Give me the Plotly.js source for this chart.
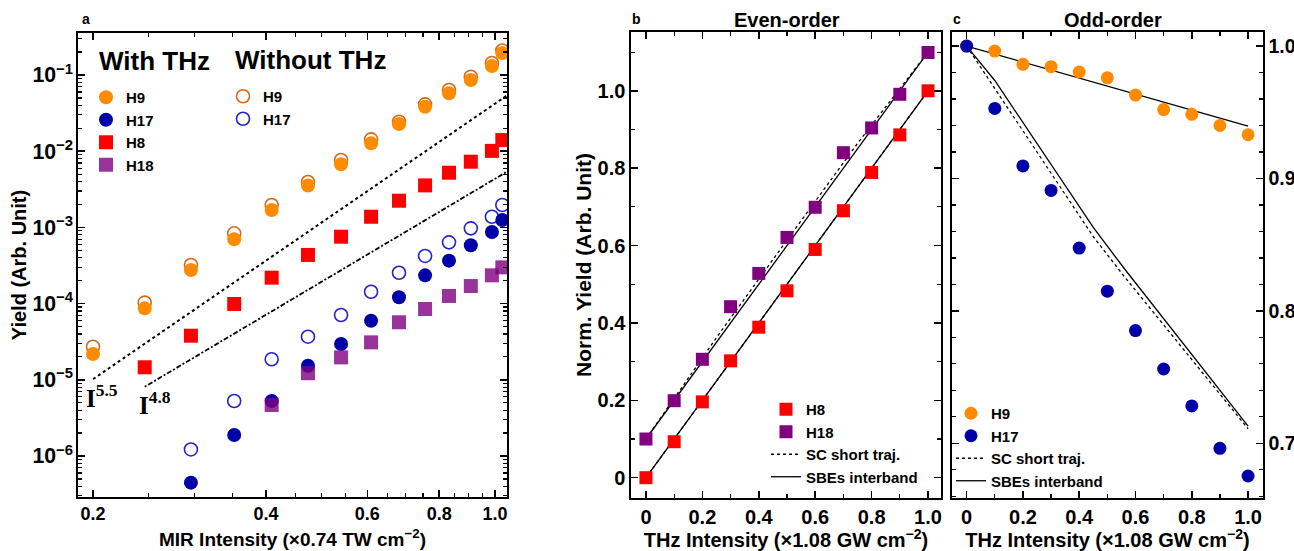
<!DOCTYPE html>
<html><head><meta charset="utf-8">
<script src="https://cdn.plot.ly/plotly-3.0.1.min.js"></script>
<style>html,body{margin:0;padding:0;background:#fff}#chart{width:1294px;height:551px}</style>
</head><body><div id="chart"></div>
<script>
// ---------- Panel a: yield vs MIR intensity (log-log) ----------
const mirIntensity = [0.200,0.246,0.296,0.352,0.409,0.473,0.540,0.609,0.681,0.756,0.832,0.908,0.988,1.030];
const h9WithTHz    = [2.18e-5,8.67e-5,2.76e-4,6.98e-4,1.69e-3,3.55e-3,6.73e-3,1.27e-2,2.28e-2,3.84e-2,5.75e-2,8.60e-2,0.131,0.194];
const h9WithoutTHz = [2.72e-5,1.03e-4,3.21e-4,8.37e-4,1.97e-3,3.94e-3,7.67e-3,1.43e-2,2.44e-2,4.12e-2,6.36e-2,9.50e-2,0.144,0.21];
const h8WithTHz    = [null,1.46e-5,3.79e-5,9.89e-5,2.19e-4,4.35e-4,7.55e-4,1.38e-3,2.24e-3,3.56e-3,5.22e-3,7.28e-3,1.01e-2,1.40e-2];
const h17WithTHz   = [null,null,4.47e-7,1.89e-6,5.27e-6,1.53e-5,2.95e-5,5.97e-5,1.21e-4,2.35e-4,3.66e-4,5.82e-4,8.71e-4,1.25e-3];
const h17WithoutTHz= [null,null,1.22e-6,5.27e-6,1.86e-5,3.68e-5,7.08e-5,1.43e-4,2.54e-4,4.22e-4,6.37e-4,9.72e-4,1.38e-3,1.97e-3];
const h18WithTHz   = [null,null,null,null,4.67e-6,1.22e-5,1.97e-5,3.10e-5,5.69e-5,8.50e-5,1.26e-4,1.70e-4,2.35e-4,2.99e-4];
// power-law guide lines (end points)
const guide55X = [0.200,1.050], guide55Y = [1.02e-5,0.054];
const guide48X = [0.246,1.050], guide48Y = [8.1e-6,5.4e-3];
const axisATickVals = [0.2,0.4,0.6,0.8,1.0];
const axisATickText = ['0.2','0.4','0.6','0.8','1.0'];

// ---------- Panel b: even-order ----------
const thzIntensity = [0,0.1,0.2,0.3,0.4,0.5,0.6,0.7,0.8,0.9,1.0];
const h8Norm  = [0,0.093,0.196,0.302,0.389,0.483,0.590,0.690,0.789,0.886,1.0];
const h18Norm = [0.100,0.199,0.306,0.442,0.528,0.621,0.699,0.840,0.904,0.991,1.099];
const evenModelX = [0,0.25,0.5,0.75,1.0];
const h8SBE  = [0,0.25,0.5,0.75,1.0];
const h8SC   = [0,0.25,0.5,0.75,1.0];
const h18SBE = [0.100,0.350,0.600,0.850,1.100];
const h18SC  = [0.100,0.362,0.614,0.864,1.100];

// ---------- Panel c: odd-order ----------
const h9Norm  = [1.0,0.9962,0.9862,0.9844,0.9804,0.976,0.963,0.952,0.9484,0.940,0.933];
const h17Norm = [1.0,0.9529,0.9095,0.891,0.8474,0.8149,0.7851,0.7561,0.7282,0.6962,0.6753];
const h9ModelX = [0,1.0], h9SBE = [1.0,0.9396];
const h17ModelX = [0,0.1,0.45,0.56,1.0];
const h17SBE = [1.0,0.974,0.863,0.832,0.713];
const h17SC  = [1.0,0.968,0.856,0.826,0.711];

const evenTicks = [0,0.2,0.4,0.6,0.8,1.0];
const evenTickText = ['0','0.2','0.4','0.6','0.8','1.0'];
const oddYTicks = [0.7,0.8,0.9,1.0];
const oddYTickText = ['0.7','0.8','0.9','1.0'];

const ORANGE='#FF8C00', ORANGE_OPEN='#D2691E', BLUE='#0000A8', BLUE_OPEN='#2424CC', RED='#FF0000', PURPLE='#800080';
const F = 'Liberation Sans, Arial, sans-serif';

const traces = [
  // panel a - without THz (open)
  {x:mirIntensity,y:h9WithoutTHz,name:'H9',mode:'markers',xaxis:'x',yaxis:'y',legend:'legend2',
   marker:{symbol:'circle-open',size:13,color:ORANGE_OPEN,line:{width:1.6}}},
  {x:mirIntensity,y:h17WithoutTHz,name:'H17',mode:'markers',xaxis:'x',yaxis:'y',legend:'legend2',
   marker:{symbol:'circle-open',size:13,color:BLUE_OPEN,line:{width:1.6}}},
  // guide lines
  {x:guide55X,y:guide55Y,mode:'lines',xaxis:'x',yaxis:'y',showlegend:false,line:{color:'#000',width:2,dash:'dot'}},
  {x:guide48X,y:guide48Y,mode:'lines',xaxis:'x',yaxis:'y',showlegend:false,line:{color:'#000',width:1.8,dash:'2px,2px,5px,2px'}},
  // panel a - with THz
  {x:mirIntensity,y:h9WithTHz,name:'H9',mode:'markers',xaxis:'x',yaxis:'y',legend:'legend',
   marker:{symbol:'circle',size:14,color:ORANGE}},
  {x:mirIntensity,y:h17WithTHz,name:'H17',mode:'markers',xaxis:'x',yaxis:'y',legend:'legend',
   marker:{symbol:'circle',size:14,color:BLUE}},
  {x:mirIntensity,y:h8WithTHz,name:'H8',mode:'markers',xaxis:'x',yaxis:'y',legend:'legend',
   marker:{symbol:'square',size:14,color:RED}},
  {x:mirIntensity,y:h18WithTHz,name:'H18',mode:'markers',xaxis:'x',yaxis:'y',legend:'legend',
   marker:{symbol:'square',size:14,color:PURPLE,opacity:0.8}},

  // panel b
  {x:evenModelX,y:h8SBE,name:'SBEs interband',mode:'lines',xaxis:'x2',yaxis:'y2',legend:'legend3',legendrank:4,
   line:{color:'#000',width:1.3}},
  {x:evenModelX,y:h18SBE,name:'SBEs interband',mode:'lines',xaxis:'x2',yaxis:'y2',showlegend:false,
   line:{color:'#000',width:1.3}},
  {x:evenModelX,y:h8SC,name:'SC short traj.',mode:'lines',xaxis:'x2',yaxis:'y2',legend:'legend3',legendrank:3,
   line:{color:'#000',width:1.3,dash:'dot'}},
  {x:evenModelX,y:h18SC,name:'SC short traj.',mode:'lines',xaxis:'x2',yaxis:'y2',showlegend:false,
   line:{color:'#000',width:1.3,dash:'dot'}},
  {x:thzIntensity,y:h8Norm,name:'H8',mode:'markers',xaxis:'x2',yaxis:'y2',legend:'legend3',legendrank:1,
   marker:{symbol:'square',size:13,color:RED}},
  {x:thzIntensity,y:h18Norm,name:'H18',mode:'markers',xaxis:'x2',yaxis:'y2',legend:'legend3',legendrank:2,
   marker:{symbol:'square',size:13,color:PURPLE}},

  // panel c
  {x:h9ModelX,y:h9SBE,name:'SBEs interband',mode:'lines',xaxis:'x3',yaxis:'y3',legend:'legend4',legendrank:4,
   line:{color:'#000',width:1.3}},
  {x:h17ModelX,y:h17SBE,name:'SBEs interband',mode:'lines',xaxis:'x3',yaxis:'y3',showlegend:false,
   line:{color:'#000',width:1.3}},
  {x:h17ModelX,y:h17SC,name:'SC short traj.',mode:'lines',xaxis:'x3',yaxis:'y3',legend:'legend4',legendrank:3,
   line:{color:'#000',width:1.3,dash:'dot'}},
  {x:thzIntensity,y:h9Norm,name:'H9',mode:'markers',xaxis:'x3',yaxis:'y3',legend:'legend4',legendrank:1,
   marker:{symbol:'circle',size:13,color:ORANGE}},
  {x:thzIntensity,y:h17Norm,name:'H17',mode:'markers',xaxis:'x3',yaxis:'y3',legend:'legend4',legendrank:2,
   marker:{symbol:'circle',size:13,color:BLUE}}
];

const frame = {showline:true,linecolor:'#000',linewidth:1.6,mirror:'allticks',ticks:'inside',ticklen:7,tickwidth:1.5,
  tickcolor:'#000',showgrid:false,zeroline:false,fixedrange:true};
const minorLin = (d)=>({dtick:d,ticks:'inside',ticklen:4,tickwidth:1.2,tickcolor:'#000',showgrid:false});
const paperText = (text,px,py,size,extra)=>Object.assign({text:text,x:px/1294,y:1-py/551,xref:'paper',yref:'paper',
  xanchor:'center',yanchor:'middle',showarrow:false,font:{size:size,weight:'bold'}},extra||{});

const layout = {
  width:1294,height:551,margin:{l:0,r:0,t:0,b:0},paper_bgcolor:'#fff',plot_bgcolor:'#fff',
  font:{family:F,color:'#000',size:16},
  xaxis:Object.assign({},frame,{type:'log',domain:[0.06028,0.39181],range:[-0.7251,0.0210],anchor:'y',
    tickvals:axisATickVals,ticktext:axisATickText,tickfont:{size:18,weight:'bold'},
    minor:{tickvals:[0.25,0.3,0.35,0.45,0.5,0.55,0.65,0.7,0.75,0.85,0.9,0.95],ticks:'inside',ticklen:4,tickwidth:1.2,tickcolor:'#000',showgrid:false},
    title:{text:'MIR Intensity (×0.74 TW cm<sup>−2</sup>)',font:{size:19,weight:'bold'},standoff:9}}),
  yaxis:Object.assign({},frame,{type:'log',domain:[0.0980,0.94011],range:[-6.538,-0.4488],anchor:'x',
    dtick:1,exponentformat:'power',tickfont:{size:17,weight:'bold'},
    minor:{dtick:'D1',ticks:'inside',ticklen:4,tickwidth:1.2,tickcolor:'#000',showgrid:false},
    title:{text:'Yield (Arb. Unit)',font:{size:20,weight:'bold'},standoff:0}}),
  xaxis2:Object.assign({},frame,{domain:[0.48764,0.72720],range:[-0.053,1.046],anchor:'y2',
    tickvals:evenTicks,ticktext:evenTickText,tickfont:{size:20,weight:'bold'},minor:minorLin(0.1),
    title:{text:'THz Intensity (×1.08 GW cm<sup>−2</sup>)',font:{size:20,weight:'bold'},standoff:7}}),
  yaxis2:Object.assign({},frame,{domain:[0.09619,0.94192],range:[-0.0525,1.152],anchor:'x2',
    tickvals:evenTicks,ticktext:evenTickText,tickfont:{size:20,weight:'bold'},minor:minorLin(0.1),
    title:{text:'Norm. Yield (Arb. Unit)',font:{size:21,weight:'bold'},standoff:0}}),
  xaxis3:Object.assign({},frame,{domain:[0.73570,0.97604],range:[-0.052,1.053],anchor:'y3',
    tickvals:evenTicks,ticktext:evenTickText,tickfont:{size:20,weight:'bold'},minor:minorLin(0.1),
    title:{text:'THz Intensity (×1.08 GW cm<sup>−2</sup>)',font:{size:20,weight:'bold'},standoff:7}}),
  yaxis3:Object.assign({},frame,{domain:[0.09619,0.94192],range:[0.6587,1.0106],anchor:'x3',side:'right',
    tickvals:oddYTicks,ticktext:oddYTickText,tickfont:{size:19.5,weight:'bold'},minor:minorLin(0.02)}),
  legend:{x:86/1294,y:1-81/551,xanchor:'left',yanchor:'top',bgcolor:'rgba(0,0,0,0)',font:{size:15,weight:'bold'}},
  legend2:{x:223/1294,y:1-80/551,xanchor:'left',yanchor:'top',bgcolor:'rgba(0,0,0,0)',font:{size:15,weight:'bold'}},
  legend3:{x:766/1294,y:1-393/551,xanchor:'left',yanchor:'top',bgcolor:'rgba(0,0,0,0)',traceorder:'normal',
    font:{size:15,weight:'bold'}},
  legend4:{x:951/1294,y:1-397/551,xanchor:'left',yanchor:'top',bgcolor:'rgba(0,0,0,0)',traceorder:'normal',
    font:{size:15,weight:'bold'}},
  annotations:[
    paperText('With THz',97,61,26,{xanchor:'left'}),
    paperText('Without THz',233,60,26,{xanchor:'left'}),
    paperText('a',86,19,14),
    paperText('b',636,19,14),
    paperText('c',957,19,14),
    paperText('Even-order',787,20,20),
    paperText('Odd-order',1113,20,20),
    paperText('I<sup>5.5</sup>',84,396,25,{xanchor:'left',font:{family:'Liberation Serif, Times New Roman, serif',size:25,weight:'bold'}}),
    paperText('I<sup>4.8</sup>',137,403,25,{xanchor:'left',font:{family:'Liberation Serif, Times New Roman, serif',size:25,weight:'bold'}})
  ]
};

Plotly.newPlot('chart',traces,layout,{staticPlot:true,displayModeBar:false});
</script></body></html>
